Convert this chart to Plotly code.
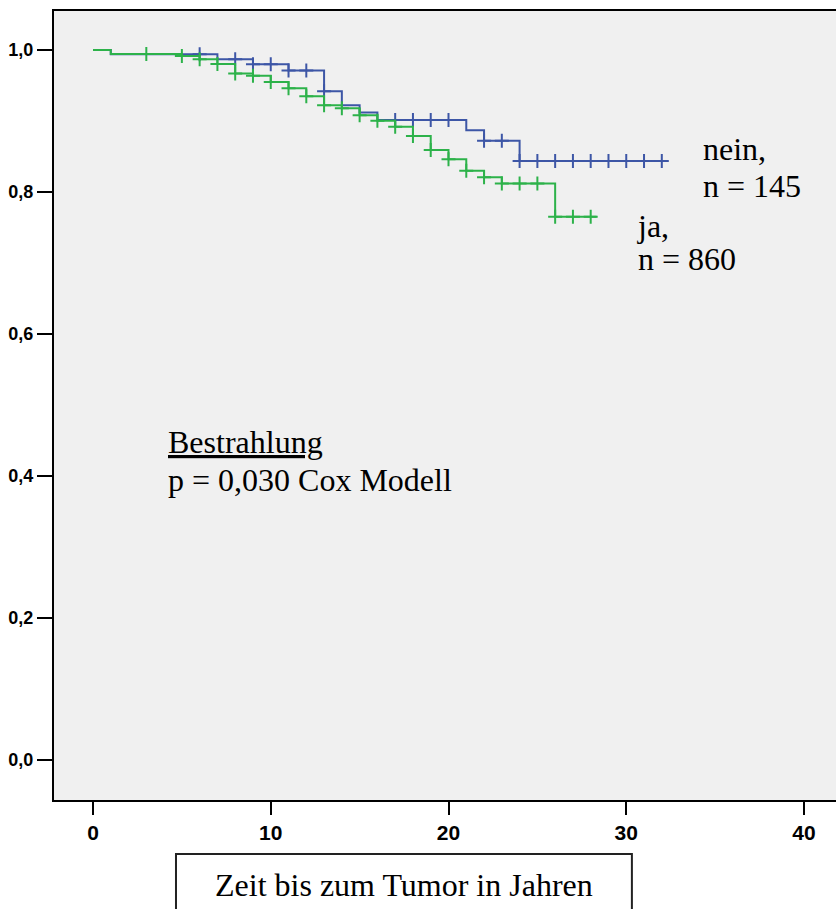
import numpy as np
import plotly.graph_objects as go

# ---- data ----
# Group "nein" (n = 145)
nein_times = [0, 1, 7, 9, 11, 13, 14, 15, 16, 21, 22, 24]
nein_surv = [1.000, 0.9939, 0.987, 0.980, 0.971, 0.942, 0.922, 0.912, 0.9014, 0.887, 0.872, 0.8437]
nein_end = 32.35
nein_censored = [6, 8, 9, 10, 11, 12, 13, 17, 18, 19, 20, 22, 23, 24, 25, 26, 27, 28, 29, 30, 31, 32]

# Group "ja" (n = 860)
ja_times = [0, 1, 5, 6, 7, 8, 9, 10, 11, 12, 13, 14, 15, 16, 17, 18, 19, 20, 21, 22, 23, 26]
ja_surv = [1.000, 0.9944, 0.9915, 0.9869, 0.9803, 0.967, 0.9638, 0.955, 0.946, 0.935, 0.922,
           0.918, 0.908, 0.9005, 0.892, 0.879, 0.859, 0.846, 0.830, 0.8206, 0.812, 0.765]
ja_end = 28.33
ja_censored = [3, 5, 6, 7, 8, 9, 10, 11, 12, 13, 14, 15, 16, 17, 18, 19, 20, 21, 22, 23, 24, 25, 26, 27, 28]

x_ticks = [0, 10, 20, 30, 40]
y_ticks = [0.0, 0.2, 0.4, 0.6, 0.8, 1.0]
y_ticktext = ["0,0", "0,2", "0,4", "0,6", "0,8", "1,0"]

BLUE = "#3D56A6"
GREEN = "#2DB24A"


def step_xy(times, surv, end):
    xs = list(times) + [end]
    ys = list(surv) + [surv[-1]]
    return xs, ys


def surv_at(times, surv, t):
    idx = np.searchsorted(np.array(times), np.array(t), side="right") - 1
    return list(np.array(surv)[idx])


fig = go.Figure()

for times, surv, end, cens, color in [
    (nein_times, nein_surv, nein_end, nein_censored, BLUE),
    (ja_times, ja_surv, ja_end, ja_censored, GREEN),
]:
    xs, ys = step_xy(times, surv, end)
    fig.add_trace(go.Scatter(x=xs, y=ys, mode="lines", line=dict(color=color, width=2, shape="hv"),
                             showlegend=False, hoverinfo="skip"))
    fig.add_trace(go.Scatter(x=cens, y=surv_at(times, surv, cens), mode="markers",
                             marker=dict(symbol="cross-thin-open", size=10, color=color,
                                         line=dict(color=color, width=2)),
                             showlegend=False, hoverinfo="skip"))

serif = "Liberation Serif"
fs = 32
ann = [
    dict(x=34.21, y=0.8602, text="nein,"),
    dict(x=34.21, y=0.8090, text="n = 145"),
    dict(x=30.49, y=0.7522, text="ja,"),
    dict(x=30.55, y=0.7053, text="n = 860"),
    dict(x=4.11, y=0.4480, text="<u>Bestrahlung</u>"),
    dict(x=4.11, y=0.3945, text="p = 0,030 Cox Modell"),
]
for a in ann:
    fig.add_annotation(x=a["x"], y=a["y"], xref="x", yref="y", text=a["text"], showarrow=False,
                       xanchor="left", yanchor="middle",
                       font=dict(family=serif, size=fs, color="black"))

fig.add_annotation(x=0.4476, y=-0.1076, xref="paper", yref="paper", text="Zeit bis zum Tumor in Jahren",
                   showarrow=False, xanchor="center", yanchor="middle",
                   font=dict(family=serif, size=fs, color="black"))
fig.add_shape(type="rect", xref="paper", yref="paper", x0=0.156, x1=0.739, y0=-0.0684, y1=-0.2,
              line=dict(color="#222222", width=2), fillcolor="rgba(0,0,0,0)")

fig.update_layout(
    width=836, height=909,
    margin=dict(l=54, r=0, t=11, b=109),
    paper_bgcolor="white",
    plot_bgcolor="#F0F0F0",
    showlegend=False,
    xaxis=dict(range=[-2.194, 41.80], tickvals=x_ticks, ticktext=[str(v) for v in x_ticks],
               ticks="outside", ticklen=13, tickwidth=2, tickcolor="black",
               showline=True, linecolor="black", linewidth=2, mirror=True,
               showgrid=False, zeroline=False,
               tickfont=dict(family="Liberation Sans", size=21, color="black", weight="bold")),
    yaxis=dict(range=[-0.0563, 1.0549], tickvals=y_ticks, ticktext=y_ticktext,
               ticks="outside", ticklen=15, tickwidth=2, tickcolor="black",
               showline=True, linecolor="black", linewidth=2,
               showgrid=False, zeroline=False,
               tickfont=dict(family="Liberation Sans", size=18, color="black", weight="bold")),
)

fig.write_html("out.html")
